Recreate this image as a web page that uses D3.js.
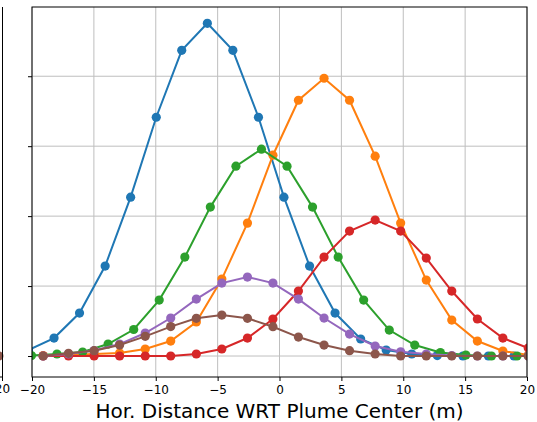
<!DOCTYPE html>
<html>
<head>
<meta charset="utf-8">
<script src="https://cdn.jsdelivr.net/npm/d3@7"></script>
<style>
  body { margin: 0; background: #fff; }
  text { font-family: "DejaVu Sans", sans-serif; }
</style>
</head>
<body>
<div id="chart"></div>
<script>
// Canvas and plot box
const width = 537;
const height = 422;
const margin = { top: 7, right: 10, bottom: 45, left: 32 };

// Horizontal sample positions (m)
const xGridA = [-19.1, -17.05, -14.98, -12.92, -10.85, -8.79, -6.72, -4.66, -2.59, -0.53,
                1.53, 3.6, 5.66, 7.73, 9.79, 11.86, 13.92, 15.99, 18.05, 20.1];
const xBlue = [-20.28, -18.22, -16.16, -14.09, -12.03, -9.96, -7.9, -5.83, -3.77, -1.7,
               0.36, 2.43, 4.49, 6.56, 8.62, 10.69, 12.75, 14.82, 16.88, 18.95];
const xGreen = [-20.04, -17.98, -15.91, -13.85, -11.78, -9.72, -7.65, -5.59, -3.52, -1.46,
                0.61, 2.67, 4.74, 6.8, 8.87, 10.93, 13.0, 15.06, 17.13, 19.19];

// Profile values (one per series)
const blueValues = [0.086, 0.257, 0.614, 1.286, 2.271, 3.414, 4.371, 4.757, 4.371, 3.414,
                    2.271, 1.286, 0.614, 0.243, 0.086, 0.029, 0.007, 0, 0, 0];
const orangeValues = [0.007, 0.014, 0.029, 0.043, 0.1, 0.214, 0.486, 1.1, 1.9, 2.871,
                      3.657, 3.971, 3.657, 2.857, 1.9, 1.086, 0.514, 0.214, 0.071, 0.014];
const greenValues = [0.007, 0.029, 0.057, 0.171, 0.379, 0.8, 1.414, 2.129, 2.714, 2.957,
                     2.714, 2.129, 1.414, 0.8, 0.371, 0.157, 0.05, 0.014, 0, 0];
const redValues = [0, 0, 0, 0, 0, 0, 0.029, 0.1, 0.257, 0.529,
                   0.929, 1.414, 1.786, 1.943, 1.786, 1.4, 0.929, 0.529, 0.257, 0.114];
const purpleValues = [0, 0.029, 0.079, 0.171, 0.329, 0.543, 0.814, 1.043, 1.129, 1.043,
                      0.814, 0.543, 0.314, 0.143, 0.061, 0.029, 0.007, 0, 0, 0];
const brownValues = [0, 0.039, 0.076, 0.157, 0.281, 0.421, 0.539, 0.586, 0.539, 0.419,
                     0.271, 0.157, 0.076, 0.029, 0, 0, 0, 0, 0, 0];

// Ticks
const xTicks = [-20, -15, -10, -5, 0, 5, 10, 15, 20];
const yTicks = [0, 1, 2, 3, 4];
const xLabel = "Hor. Distance WRT Plume Center (m)";

const series = [
    { x: xBlue, y: blueValues, colour: "#1f77b4" },
    { x: xGridA, y: orangeValues, colour: "#ff7f0e" },
    { x: xGreen, y: greenValues, colour: "#2ca02c" },
    { x: xGridA, y: redValues, colour: "#d62728" },
    { x: xGridA, y: purpleValues, colour: "#9467bd" },
    { x: xGridA, y: brownValues, colour: "#8c564b" }
];

const svg = d3.select("#chart").append("svg")
    .attr("width", width)
    .attr("height", height);

svg.append("rect").attr("width", width).attr("height", height).attr("fill", "#fff");

const x = d3.scaleLinear().domain([-20, 20]).range([margin.left, width - margin.right]);
const y = d3.scaleLinear().domain([-0.3, 4.99]).range([height - margin.bottom, margin.top]);

const plotLeft = x.range()[0], plotRight = x.range()[1];
const plotTop = y.range()[1], plotBottom = y.range()[0];

// Neighbouring subplot, only its right edge is in frame
const nb = svg.append("g");
nb.append("circle").attr("cx", -1).attr("cy", y(0)).attr("r", 4.5).attr("fill", "#8c564b");
nb.append("line").attr("x1", 2.5).attr("x2", 2.5).attr("y1", plotTop).attr("y2", plotBottom)
    .attr("stroke", "#000").attr("stroke-width", 1);
nb.append("line").attr("x1", 0).attr("x2", 2.5).attr("y1", plotBottom).attr("y2", plotBottom)
    .attr("stroke", "#000").attr("stroke-width", 1);
nb.append("line").attr("x1", 2.5).attr("x2", 2.5).attr("y1", plotBottom).attr("y2", plotBottom + 4)
    .attr("stroke", "#000").attr("stroke-width", 1);
nb.append("text").attr("x", 2.5).attr("y", 393).attr("text-anchor", "middle")
    .attr("font-size", 12).attr("fill", "#000").text("20");

// Grid
const grid = svg.append("g").attr("stroke", "#b0b0b0").attr("stroke-width", 1).attr("opacity", 0.8);
grid.selectAll(".gx").data(xTicks).enter().append("line")
    .attr("x1", d => x(d)).attr("x2", d => x(d))
    .attr("y1", plotTop).attr("y2", plotBottom);
grid.selectAll(".gy").data(yTicks).enter().append("line")
    .attr("x1", plotLeft).attr("x2", plotRight)
    .attr("y1", d => y(d)).attr("y2", d => y(d));

// Series
svg.append("clipPath").attr("id", "clip")
    .append("rect")
    .attr("x", plotLeft).attr("y", plotTop)
    .attr("width", plotRight - plotLeft).attr("height", plotBottom - plotTop);

const plot = svg.append("g").attr("clip-path", "url(#clip)");
const line = d3.line().x(d => x(d[0])).y(d => y(d[1]));

series.forEach(s => {
    const pts = s.x.map((v, i) => [v, s.y[i]]);
    const g = plot.append("g");
    g.append("path")
        .attr("d", line(pts))
        .attr("fill", "none")
        .attr("stroke", s.colour)
        .attr("stroke-width", 2);
    g.selectAll("circle").data(pts).enter().append("circle")
        .attr("cx", d => x(d[0]))
        .attr("cy", d => y(d[1]))
        .attr("r", 4.6)
        .attr("fill", s.colour);
});

// Axes
const xAxis = d3.axisBottom(x).tickValues(xTicks).tickSize(4).tickPadding(4)
    .tickFormat(d => d < 0 ? "\u2212" + Math.abs(d) : d);
svg.append("g")
    .attr("transform", `translate(0,${plotBottom})`)
    .call(xAxis)
    .call(g => g.select(".domain").remove())
    .call(g => g.selectAll("text").attr("font-size", 12).attr("fill", "#000")
        .attr("font-family", "DejaVu Sans"));

const yAxis = d3.axisLeft(y).tickValues(yTicks).tickSize(4).tickFormat("");
svg.append("g")
    .attr("transform", `translate(${plotLeft},0)`)
    .call(yAxis)
    .call(g => g.select(".domain").remove());

svg.append("rect")
    .attr("x", plotLeft).attr("y", plotTop)
    .attr("width", plotRight - plotLeft).attr("height", plotBottom - plotTop)
    .attr("fill", "none").attr("stroke", "#000").attr("stroke-width", 1);

svg.append("text")
    .attr("x", (plotLeft + plotRight) / 2)
    .attr("y", 418)
    .attr("text-anchor", "middle")
    .attr("font-size", 20)
    .attr("fill", "#000")
    .text(xLabel);
</script>
</body>
</html>
